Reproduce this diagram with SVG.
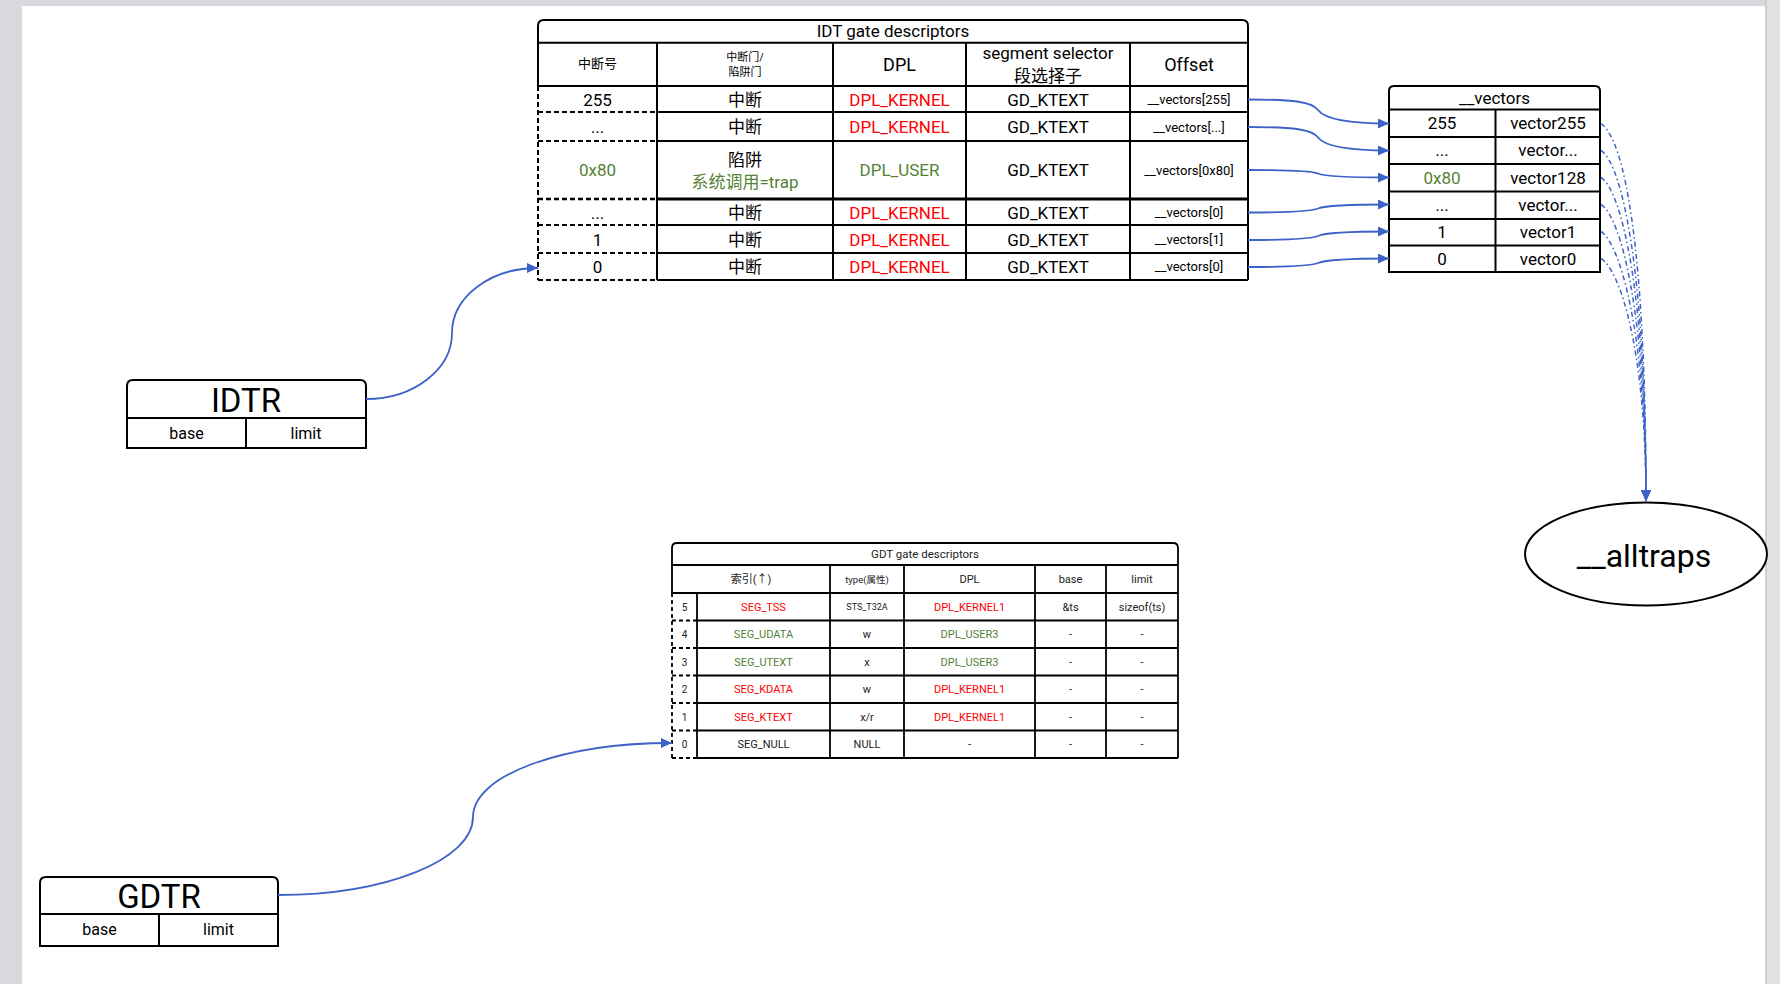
<svg xmlns="http://www.w3.org/2000/svg" width="1780" height="984" viewBox="0 0 1780 984">
<style>
.ln{stroke:#000;stroke-width:2;fill:none}
.thk{stroke:#000;stroke-width:3;fill:none}
.ds{stroke:#000;stroke-width:2;fill:none;stroke-dasharray:5 3}
.gl{stroke:#000;stroke-width:1.8;fill:none}
.gd{stroke:#000;stroke-width:1.8;fill:none;stroke-dasharray:4 3}
text{font-family:Roboto,"Noto Sans CJK SC",sans-serif;text-anchor:middle;fill:#000}
.red{fill:#ff0000}
.grn{fill:#548235}
.f17{font-size:17px}
.f13{font-size:13px}
.f11{font-size:11px}
.g{fill:#222}
.conn{stroke:#3e63c8;stroke-width:1.8;fill:none;marker-end:url(#arr)}
.dd{stroke:#3e63c8;stroke-width:1.5;fill:none;stroke-dasharray:5 3 1.5 3;marker-end:url(#arr)}
</style>
<defs>
<marker id="arr" viewBox="0 0 11 10" refX="11" refY="5" markerWidth="11" markerHeight="10" markerUnits="userSpaceOnUse" orient="auto">
<path d="M0,0 L11,5 L0,10 z" fill="#3e63c8"/>
</marker>
</defs>
<rect x="0" y="0" width="1780" height="984" fill="#ffffff"/>
<rect x="0" y="0" width="1780" height="6" fill="#d9d9dd"/>
<rect x="0" y="0" width="22" height="984" fill="#d9d9dd"/>
<rect x="1765" y="0" width="15" height="984" fill="#e2e2e2"/>
<line x1="1766" y1="0" x2="1766" y2="984" stroke="#cfcfcf" stroke-width="2"/>

<g id="idt-table">
<path class="ln" d="M538,86 V26 Q538,20 544,20 H1242 Q1248,20 1248,26 V280"/>
<line class="ds" x1="538" y1="86" x2="538" y2="280"/>
<line class="ln" x1="538" y1="42.7" x2="1248" y2="42.7"/>
<line class="ln" x1="538" y1="86" x2="1248" y2="86"/>
<g class="ln">
<line x1="657" y1="112" x2="1248" y2="112"/>
<line x1="657" y1="141" x2="1248" y2="141"/>
<line x1="657" y1="225" x2="1248" y2="225"/>
<line x1="657" y1="253" x2="1248" y2="253"/>
<line x1="657" y1="280" x2="1248" y2="280"/>
<line x1="657" y1="42.7" x2="657" y2="280"/>
<line x1="833" y1="42.7" x2="833" y2="280"/>
<line x1="966" y1="42.7" x2="966" y2="280"/>
<line x1="1130" y1="42.7" x2="1130" y2="280"/>
</g>
<line class="thk" x1="657" y1="199" x2="1248" y2="199"/>
<g class="ds">
<line x1="538" y1="112" x2="657" y2="112"/>
<line x1="538" y1="141" x2="657" y2="141"/>
<line x1="538" y1="199" x2="657" y2="199" stroke-width="2.6"/>
<line x1="538" y1="225" x2="657" y2="225"/>
<line x1="538" y1="253" x2="657" y2="253"/>
<line x1="538" y1="280" x2="657" y2="280"/>
</g>
<text x="893" y="36.5" class="f17">IDT gate descriptors</text>
<text x="597.5" y="68" style="font-size:13px">中断号</text>
<text x="745" y="61" class="f11">中断门/</text>
<text x="745" y="76" class="f11">陷阱门</text>
<text x="899.5" y="71" style="font-size:18px">DPL</text>
<text x="1048" y="59" class="f17">segment selector</text>
<text x="1048" y="81.5" class="f17">段选择子</text>
<text x="1189" y="71" style="font-size:18px">Offset</text>

<text x="597.5" y="106" class="f17">255</text>
<text x="597.5" y="133" class="f17">...</text>
<text x="597.5" y="176" class="f17 grn">0x80</text>
<text x="597.5" y="219" class="f17">...</text>
<text x="597.5" y="246" class="f17">1</text>
<text x="597.5" y="273" class="f17">0</text>

<text x="745" y="106" class="f17">中断</text>
<text x="745" y="133" class="f17">中断</text>
<text x="745" y="166" class="f17">陷阱</text>
<text x="745" y="188" class="f17 grn">系统调用=trap</text>
<text x="745" y="219" class="f17">中断</text>
<text x="745" y="246" class="f17">中断</text>
<text x="745" y="273" class="f17">中断</text>

<text x="899.5" y="106" class="f17 red">DPL_KERNEL</text>
<text x="899.5" y="133" class="f17 red">DPL_KERNEL</text>
<text x="899.5" y="176" class="f17 grn">DPL_USER</text>
<text x="899.5" y="219" class="f17 red">DPL_KERNEL</text>
<text x="899.5" y="246" class="f17 red">DPL_KERNEL</text>
<text x="899.5" y="273" class="f17 red">DPL_KERNEL</text>

<text x="1048" y="106" class="f17">GD_KTEXT</text>
<text x="1048" y="133" class="f17">GD_KTEXT</text>
<text x="1048" y="176" class="f17">GD_KTEXT</text>
<text x="1048" y="219" class="f17">GD_KTEXT</text>
<text x="1048" y="246" class="f17">GD_KTEXT</text>
<text x="1048" y="273" class="f17">GD_KTEXT</text>

<text x="1189" y="104" class="f13">__vectors[255]</text>
<text x="1189" y="131.5" class="f13">__vectors[...]</text>
<text x="1189" y="174.5" class="f13">__vectors[0x80]</text>
<text x="1189" y="216.5" class="f13">__vectors[0]</text>
<text x="1189" y="243.5" class="f13">__vectors[1]</text>
<text x="1189" y="271" class="f13">__vectors[0]</text>
</g>

<g id="vectors-table">
<path class="ln" d="M1389,272 V91 Q1389,86 1394,86 H1595 Q1600,86 1600,91 V272 Z"/>
<g class="ln">
<line x1="1389" y1="109.5" x2="1600" y2="109.5"/>
<line x1="1389" y1="137" x2="1600" y2="137"/>
<line x1="1389" y1="164" x2="1600" y2="164"/>
<line x1="1389" y1="191.5" x2="1600" y2="191.5"/>
<line x1="1389" y1="219" x2="1600" y2="219"/>
<line x1="1389" y1="245.5" x2="1600" y2="245.5"/>
<line x1="1495.5" y1="109.5" x2="1495.5" y2="272"/>
</g>
<text x="1494.5" y="103.5" class="f17">__vectors</text>
<text x="1442" y="129" class="f17">255</text>
<text x="1442" y="156" class="f17">...</text>
<text x="1442" y="183.5" class="f17 grn">0x80</text>
<text x="1442" y="211" class="f17">...</text>
<text x="1442" y="238" class="f17">1</text>
<text x="1442" y="264.5" class="f17">0</text>
<text x="1548" y="129" class="f17">vector255</text>
<text x="1548" y="156" class="f17">vector...</text>
<text x="1548" y="183.5" class="f17">vector128</text>
<text x="1548" y="211" class="f17">vector...</text>
<text x="1548" y="238" class="f17">vector1</text>
<text x="1548" y="264.5" class="f17">vector0</text>
</g>

<g id="alltraps">
<ellipse cx="1646" cy="554" rx="121" ry="51.5" fill="#fff" stroke="#000" stroke-width="2"/>
<text x="1644" y="567" style="font-size:32px">__alltraps</text>
</g>

<g id="idtr">
<path class="ln" d="M127,448 V386 Q127,380 133,380 H360 Q366,380 366,386 V448 Z"/>
<line class="ln" x1="127" y1="418" x2="366" y2="418"/>
<line class="ln" x1="246" y1="418" x2="246" y2="448"/>
<text x="246" y="412" style="font-size:33px">IDTR</text>
<text x="186.5" y="439" style="font-size:16px">base</text>
<text x="306" y="439" style="font-size:16px">limit</text>
</g>

<g id="gdtr">
<path class="ln" d="M40,946 V883 Q40,877 46,877 H272 Q278,877 278,883 V946 Z"/>
<line class="ln" x1="40" y1="914" x2="278" y2="914"/>
<line class="ln" x1="159" y1="914" x2="159" y2="946"/>
<text x="159" y="908" style="font-size:33px">GDTR</text>
<text x="99.5" y="935" style="font-size:16px">base</text>
<text x="218.5" y="935" style="font-size:16px">limit</text>
</g>

<g id="gdt-table">
<path class="gl" d="M672,593 V548 Q672,543 677,543 H1173 Q1178,543 1178,548 V758"/>
<line class="gd" x1="672" y1="593" x2="672" y2="758"/>
<line class="gl" x1="672" y1="565" x2="1178" y2="565"/>
<line class="gl" x1="672" y1="593" x2="1178" y2="593"/>
<g class="gl">
<line x1="697" y1="620.5" x2="1178" y2="620.5"/>
<line x1="697" y1="648" x2="1178" y2="648"/>
<line x1="697" y1="675.5" x2="1178" y2="675.5"/>
<line x1="697" y1="703" x2="1178" y2="703"/>
<line x1="697" y1="730.5" x2="1178" y2="730.5"/>
<line x1="697" y1="758" x2="1178" y2="758"/>
<line x1="697" y1="593" x2="697" y2="758"/>
<line x1="830" y1="565" x2="830" y2="758"/>
<line x1="904" y1="565" x2="904" y2="758"/>
<line x1="1035" y1="565" x2="1035" y2="758"/>
<line x1="1106" y1="565" x2="1106" y2="758"/>
</g>
<g class="gd">
<line x1="672" y1="620.5" x2="697" y2="620.5"/>
<line x1="672" y1="648" x2="697" y2="648"/>
<line x1="672" y1="675.5" x2="697" y2="675.5"/>
<line x1="672" y1="703" x2="697" y2="703"/>
<line x1="672" y1="730.5" x2="697" y2="730.5"/>
<line x1="672" y1="758" x2="697" y2="758"/>
</g>
<text x="925" y="558" class="g" style="font-size:11.5px">GDT gate descriptors</text>
<text x="751" y="583" class="f11 g">索引(↑)</text>
<text x="867" y="582.5" class="g" style="font-size:9.5px">type(属性)</text>
<text x="969.5" y="583" class="f11 g">DPL</text>
<text x="1070.5" y="583" class="f11 g">base</text>
<text x="1142" y="583" class="f11 g">limit</text>

<g style="font-size:10px">
<text x="684.5" y="610.5" class="g">5</text>
<text x="684.5" y="638" class="g">4</text>
<text x="684.5" y="665.5" class="g">3</text>
<text x="684.5" y="693" class="g">2</text>
<text x="684.5" y="720.5" class="g">1</text>
<text x="684.5" y="748" class="g">0</text>
</g>
<text x="763.5" y="610.5" class="f11 red">SEG_TSS</text>
<text x="763.5" y="638" class="f11 grn">SEG_UDATA</text>
<text x="763.5" y="665.5" class="f11 grn">SEG_UTEXT</text>
<text x="763.5" y="693" class="f11 red">SEG_KDATA</text>
<text x="763.5" y="720.5" class="f11 red">SEG_KTEXT</text>
<text x="763.5" y="748" class="f11 g">SEG_NULL</text>

<text x="867" y="609.5" class="g" style="font-size:9px">STS_T32A</text>
<text x="867" y="638" class="f11 g">w</text>
<text x="867" y="665.5" class="f11 g">x</text>
<text x="867" y="693" class="f11 g">w</text>
<text x="867" y="720.5" class="f11 g">x/r</text>
<text x="867" y="748" class="f11 g">NULL</text>

<text x="969.5" y="610.5" class="f11 red">DPL_KERNEL1</text>
<text x="969.5" y="638" class="f11 grn">DPL_USER3</text>
<text x="969.5" y="665.5" class="f11 grn">DPL_USER3</text>
<text x="969.5" y="693" class="f11 red">DPL_KERNEL1</text>
<text x="969.5" y="720.5" class="f11 red">DPL_KERNEL1</text>
<text x="969.5" y="748" class="f11 g">-</text>

<text x="1070.5" y="610.5" class="f11 g">&amp;ts</text>
<text x="1070.5" y="638" class="f11 g">-</text>
<text x="1070.5" y="665.5" class="f11 g">-</text>
<text x="1070.5" y="693" class="f11 g">-</text>
<text x="1070.5" y="720.5" class="f11 g">-</text>
<text x="1070.5" y="748" class="f11 g">-</text>

<text x="1142" y="610.5" class="f11 g">sizeof(ts)</text>
<text x="1142" y="638" class="f11 g">-</text>
<text x="1142" y="665.5" class="f11 g">-</text>
<text x="1142" y="693" class="f11 g">-</text>
<text x="1142" y="720.5" class="f11 g">-</text>
<text x="1142" y="748" class="f11 g">-</text>
</g>

<g id="connectors">
<path class="conn" d="M366,399 C413.5,399 452,369.5 452,333 C452,297 490,268 538,268"/>
<path class="conn" d="M278,895 C385.7,895 473,860 473,817 C473,775.6 561,743 672,743"/>
<path class="conn" d="M1248,99.5 C1295,99.5 1312,102 1318,110 C1324,118 1345,123.5 1389,123.5"/>
<path class="conn" d="M1248,127 C1295,127 1312,129.5 1318,137.5 C1324,145.5 1345,150.5 1389,150.5"/>
<path class="conn" d="M1248,170 C1295,170 1312,171 1318,173.5 C1324,176 1345,177.5 1389,177.5"/>
<path class="conn" d="M1248,212.5 C1295,212.5 1312,211 1318,208.5 C1324,206 1345,204.5 1389,204.5"/>
<path class="conn" d="M1248,240 C1295,240 1312,238.5 1318,236 C1324,233 1345,231.5 1389,231.5"/>
<path class="conn" d="M1248,267 C1295,267 1312,265.5 1318,263 C1324,260.5 1345,258.5 1389,258.5"/>
<path class="dd" d="M1601,123.5 C1625,140 1646,250 1646,501"/>
<path class="dd" d="M1601,150.5 C1623,165 1646,276 1646,501"/>
<path class="dd" d="M1601,177.5 C1622,191 1646,294 1646,501"/>
<path class="dd" d="M1601,204.5 C1621,217 1646,313 1646,501"/>
<path class="dd" d="M1601,231.5 C1620,244 1646,331 1646,501"/>
<path class="dd" d="M1601,258.5 C1620,270 1646,350 1646,501"/>
</g>
</svg>
